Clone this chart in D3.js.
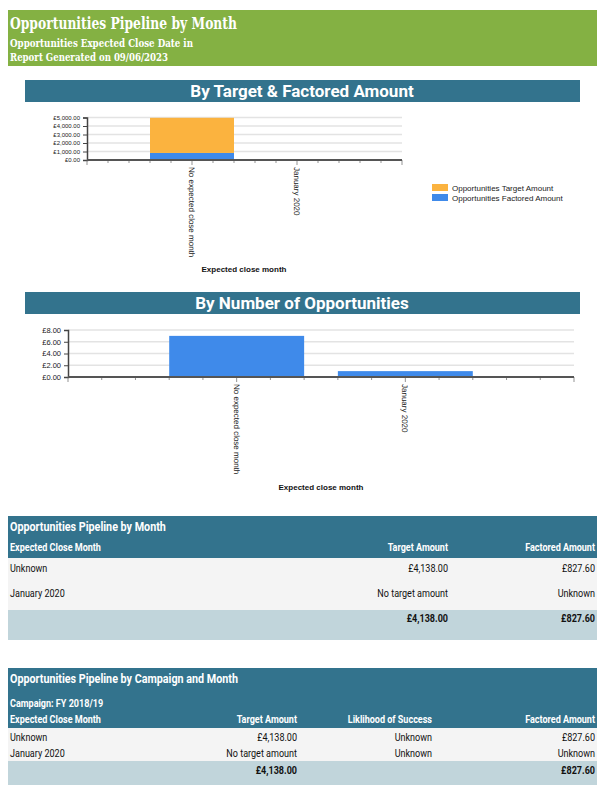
<!DOCTYPE html>
<html>
<head>
<meta charset="utf-8">
<script src="https://cdn.jsdelivr.net/npm/d3@7"></script>
<style>
  body { margin: 0; background: #fff; }
  svg text { font-family: Roboto, "Liberation Sans", sans-serif; }
  .xlab { text-rendering: geometricPrecision; }
</style>
</head>
<body>
<div id="page"></div>
<script>
// ----------------------------
// Data
// ----------------------------
var months = ["No expected close month", "January 2020"];
var targetAmounts = [4138, 0];
var factoredAmounts = [827.6, 0];
var opportunityCounts = [7, 1];
var amountTicks = [0, 1000, 2000, 3000, 4000, 5000];
var countTicks = [0, 2, 4, 6, 8];
var seriesNames = ["Opportunities Target Amount", "Opportunities Factored Amount"];

var monthRows = [
    ["Unknown", "£4,138.00", "£827.60"],
    ["January 2020", "No target amount", "Unknown"]
];
var monthTotals = ["", "£4,138.00", "£827.60"];
var campaignRows = [
    ["Unknown", "£4,138.00", "Unknown", "£827.60"],
    ["January 2020", "No target amount", "Unknown", "Unknown"]
];
var campaignTotals = ["", "£4,138.00", "", "£827.60"];

var green = "#84b143", teal = "#33738d", orange = "#fbb33f", blue = "#3f8aea";
var fmt = d3.format(",.2f");
var money = d => "£" + fmt(d);

var svg = d3.select("#page").append("svg")
    .attr("width", 605).attr("height", 791);

// squeeze a text horizontally to mimic a condensed face
function condense(sel, k) {
    sel.each(function () {
        var w = this.getComputedTextLength();
        if (w > 0) d3.select(this).attr("textLength", w * k).attr("lengthAdjust", "spacingAndGlyphs");
    });
}

// ----------------------------
// Report header
// ----------------------------
svg.append("rect").attr("x", 8).attr("y", 10).attr("width", 589).attr("height", 56).attr("fill", green);
var serif = "'DejaVu Serif', serif";
svg.append("text").attr("x", 10).attr("y", 29).attr("fill", "#fff")
    .style("font-family", serif).attr("font-weight", "bold").attr("font-size", 17)
    .attr("textLength", 227).attr("lengthAdjust", "spacingAndGlyphs")
    .text("Opportunities Pipeline by Month");
svg.append("text").attr("x", 10).attr("y", 47).attr("fill", "#fff")
    .style("font-family", serif).attr("font-weight", "bold").attr("font-size", 10.5)
    .attr("textLength", 183).attr("lengthAdjust", "spacingAndGlyphs")
    .text("Opportunities Expected Close Date in");
svg.append("text").attr("x", 10).attr("y", 61).attr("fill", "#fff")
    .style("font-family", serif).attr("font-weight", "bold").attr("font-size", 10.5)
    .attr("textLength", 158).attr("lengthAdjust", "spacingAndGlyphs")
    .text("Report Generated on 09/06/2023");

function sectionHeader(y, label) {
    svg.append("rect").attr("x", 25).attr("y", y).attr("width", 555).attr("height", 22).attr("fill", teal);
    svg.append("text").attr("x", 302).attr("y", y + 17).attr("text-anchor", "middle")
        .attr("fill", "#fff").attr("font-weight", "bold").attr("font-size", 17).text(label);
}

// ----------------------------
// Bar chart helper
// ----------------------------
function drawChart(opts) {
    var g = svg.append("g");
    var x = d3.scaleLinear().domain([0, months.length + 1]).range([opts.left, opts.right]);
    var y = d3.scaleLinear().domain(opts.yDomain).range([opts.bottom, opts.top]);
    var step = x(1) - x(0);

    // gridlines
    g.selectAll(".grid").data(opts.yTicks.slice(1)).join("line")
        .attr("x1", opts.left).attr("x2", opts.right)
        .attr("y1", d => y(d)).attr("y2", d => y(d))
        .attr("stroke", "#e3e3e3").attr("stroke-width", 1.5);

    // bars (stacked series)
    opts.series.forEach(function (s) {
        g.selectAll(null).data(months).join("rect")
            .attr("x", (d, i) => x(i + 1) - step * 0.4)
            .attr("width", step * 0.8)
            .attr("y", (d, i) => y(s.base[i] + s.values[i]))
            .attr("height", (d, i) => y(s.base[i]) - y(s.base[i] + s.values[i]))
            .attr("fill", s.color);
    });

    // y axis
    var yAxis = g.append("g").attr("transform", `translate(${opts.left},0)`)
        .call(d3.axisLeft(y).tickValues(opts.yTicks).tickFormat(money).tickSize(4));
    yAxis.select(".domain").attr("stroke", "#444").attr("stroke-width", 1.5);
    yAxis.selectAll(".tick line").attr("stroke", "#444");
    yAxis.selectAll("text").attr("font-size", opts.yFont).attr("fill", "#222")
        .style("font-family", "'Liberation Sans', Arial, sans-serif");

    // x axis with minor ticks
    var minor = d3.range(0, (months.length + 1) * 5 + 1).map(d => d / 5);
    g.selectAll(".minor").data(minor).join("line")
        .attr("x1", d => x(d)).attr("x2", d => x(d))
        .attr("y1", opts.bottom).attr("y2", d => opts.bottom + (Number.isInteger(d) ? 5 : 3))
        .attr("stroke", "#666").attr("stroke-width", 0.7);
    g.append("line").attr("x1", opts.left).attr("x2", opts.right)
        .attr("y1", opts.bottom).attr("y2", opts.bottom)
        .attr("stroke", "#555").attr("stroke-width", 2);

    // rotated month labels
    g.selectAll(".xlab").data(months).join("text")
        .attr("class", "xlab")
        .attr("transform", (d, i) => `translate(${Math.round(x(i + 1)) - 3},${opts.bottom + 7}) rotate(90)`)
        .attr("font-size", 8).attr("fill", "#222")
        .style("font-family", "'Liberation Sans', Arial, sans-serif")
        .text(d => d);

    g.append("text").attr("x", opts.titleX).attr("y", opts.titleY).attr("text-anchor", "middle")
        .attr("font-size", 8).attr("font-weight", "bold").attr("fill", "#111")
        .style("font-family", "'Liberation Sans', Arial, sans-serif")
        .text("Expected close month");
}

sectionHeader(80, "By Target & Factored Amount");
drawChart({
    left: 87, right: 402, top: 117.5, bottom: 160,
    yDomain: [0, 5000], yTicks: amountTicks, yFont: 6,
    series: [
        { values: factoredAmounts, base: [0, 0], color: blue },
        { values: targetAmounts, base: factoredAmounts, color: orange }
    ],
    titleX: 244, titleY: 272
});

// legend
var legend = svg.append("g").attr("transform", "translate(432,184)");
[orange, blue].forEach(function (c, i) {
    legend.append("rect").attr("x", 0).attr("y", i * 10).attr("width", 16).attr("height", 7).attr("fill", c);
    legend.append("text").attr("x", 20).attr("y", i * 10 + 6.5).attr("font-size", 8).attr("fill", "#222")
        .style("font-family", "'Liberation Sans', Arial, sans-serif")
        .text(seriesNames[i]);
});

sectionHeader(292, "By Number of Opportunities");
drawChart({
    left: 68, right: 574, top: 330, bottom: 377,
    yDomain: [0, 8], yTicks: countTicks, yFont: 7.5,
    series: [{ values: opportunityCounts, base: [0, 0], color: blue }],
    titleX: 321, titleY: 490
});

// ----------------------------
// Tables
// ----------------------------
function drawTable(t) {
    var g = svg.append("g");
    g.append("rect").attr("x", 8).attr("y", t.top).attr("width", 589).attr("height", t.headH).attr("fill", teal);
    t.headLines.forEach(function (l) {
        g.append("text").attr("x", 10).attr("y", l.y).attr("fill", "#fff")
            .attr("font-weight", "bold").attr("font-size", l.size).text(l.text);
    });
    t.cols.forEach(function (c) {
        g.append("text").attr("x", c.x).attr("y", t.colY).attr("text-anchor", c.anchor)
            .attr("fill", "#fff").attr("font-weight", "bold").attr("font-size", 10.5).text(c.name);
    });
    g.append("rect").attr("x", 8).attr("y", t.top + t.headH).attr("width", 589)
        .attr("height", t.rowH * t.rows.length).attr("fill", "#f4f4f4");
    t.rows.forEach(function (r, ri) {
        r.forEach(function (v, ci) {
            g.append("text").attr("x", t.cols[ci].x).attr("y", t.rowY[ri]).attr("text-anchor", t.cols[ci].anchor)
                .attr("fill", "#111").attr("font-size", 10.5).text(v);
        });
    });
    var totTop = t.top + t.headH + t.rowH * t.rows.length;
    g.append("rect").attr("x", 8).attr("y", totTop).attr("width", 589).attr("height", t.totH).attr("fill", "#c1d5db");
    t.totals.forEach(function (v, ci) {
        g.append("text").attr("x", t.cols[ci].x).attr("y", t.totY).attr("text-anchor", t.cols[ci].anchor)
            .attr("fill", "#111").attr("font-weight", "bold").attr("font-size", 10.5).text(v);
    });
    g.selectAll("text").call(condense, 0.86);
}

drawTable({
    top: 516, headH: 42, rowH: 26, totH: 30,
    headLines: [{ text: "Opportunities Pipeline by Month", y: 531, size: 12.5 }],
    colY: 551,
    cols: [
        { name: "Expected Close Month", x: 10, anchor: "start" },
        { name: "Target Amount", x: 448, anchor: "end" },
        { name: "Factored Amount", x: 595, anchor: "end" }
    ],
    rows: monthRows, rowY: [572, 597],
    totals: monthTotals, totY: 622
});

drawTable({
    top: 668, headH: 60, rowH: 16.5, totH: 24,
    headLines: [
        { text: "Opportunities Pipeline by Campaign and Month", y: 683, size: 12.5 },
        { text: "Campaign: FY 2018/19", y: 707, size: 10.5 }
    ],
    colY: 723,
    cols: [
        { name: "Expected Close Month", x: 10, anchor: "start" },
        { name: "Target Amount", x: 297, anchor: "end" },
        { name: "Liklihood of Success", x: 432, anchor: "end" },
        { name: "Factored Amount", x: 595, anchor: "end" }
    ],
    rows: campaignRows, rowY: [741, 757],
    totals: campaignTotals, totY: 774
});
</script>
</body>
</html>
